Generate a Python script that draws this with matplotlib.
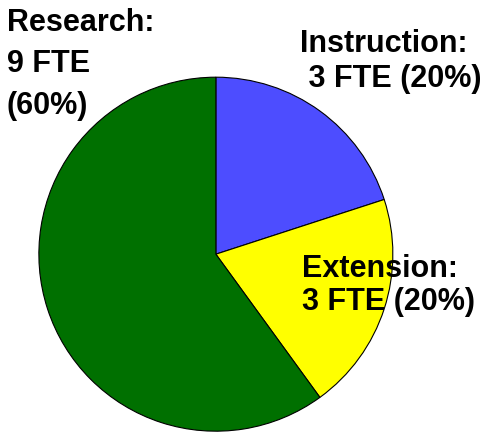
import matplotlib.pyplot as plt

labels = ["Instruction:\n 3 FTE (20%)", "Extension:\n3 FTE (20%)", "Research:\n9 FTE\n(60%)"]
fte = [3, 3, 9]
colors = ["#4d4dff", "#ffff00", "#007000"]

plt.rcParams['font.family'] = ['Liberation Sans', 'DejaVu Sans']

fig = plt.figure(figsize=(4.92, 4.36), dpi=100)
ax = fig.add_axes([0.079, 0.011, 0.7195, 0.812])
ax.pie(fte, colors=colors, startangle=90, counterclock=False,
       wedgeprops=dict(edgecolor='black', linewidth=0.8))
ax.set_xlim(-1, 1)
ax.set_ylim(-1, 1)
ax.set_aspect('equal')
ax.axis('off')

# label positions in figure pixels (x, top y, line spacing)
pos = [(300, 29, 1.2), (302, 254, 1.15), (7, 8, 1.5)]
for lab, (px, py, ls) in zip(labels, pos):
    fig.text(px / 492, 1 - py / 436, lab, ha='left', va='top',
             fontsize=22, fontweight='bold', linespacing=ls)

fig.savefig("out.png", dpi=100)
